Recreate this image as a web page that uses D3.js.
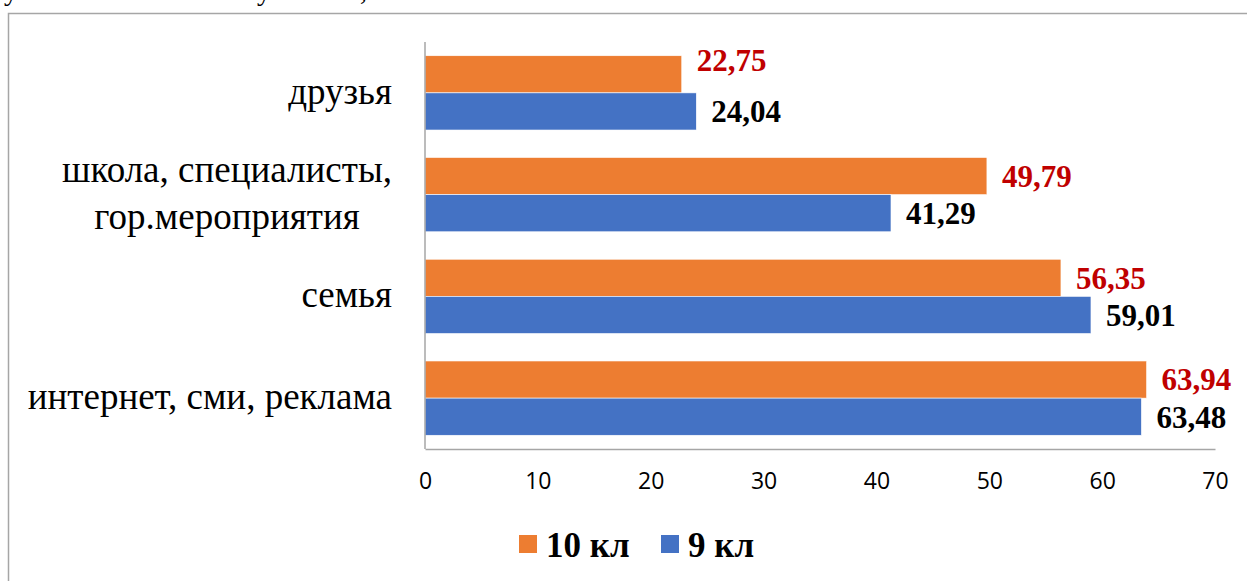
<!DOCTYPE html>
<html>
<head>
<meta charset="UTF-8">
<title>Источники информации</title>
<script src="https://cdn.jsdelivr.net/npm/d3@7"></script>
<style>
  body { margin: 0; background: #fff; }
  svg { display: block; }
</style>
</head>
<body>
<script>
// data
var categories = [["друзья"], ["школа, специалисты,", "гор.мероприятия"], ["семья"], ["интернет, сми, реклама"]];
var seriesNames = ["10 кл", "9 кл"];
var values10 = [22.75, 49.79, 56.35, 63.94];
var values9 = [24.04, 41.29, 59.01, 63.48];
var xTicks = [0, 10, 20, 30, 40, 50, 60, 70];

var colors = ["#ed7d31", "#4472c4"];
var labelColors = ["#c00000", "#000000"];
var serif = "'Liberation Serif', 'Times New Roman', serif";

var W = 1247, H = 581;
var svg = d3.select("body").append("svg").attr("width", W).attr("height", H);

// bits of the text line above the chart (only descenders visible)
svg.selectAll("text.cut").data([[4, "у"], [257, "у"], [360, ","]]).enter()
  .append("text").attr("class", "cut")
  .attr("x", function (d) { return d[0]; }).attr("y", 0)
  .style("font-family", serif).style("font-size", "28px")
  .text(function (d) { return d[1]; });

// outer frame (runs off the right and bottom)
svg.append("rect").attr("x", 8.5).attr("y", 13.5).attr("width", 1260).attr("height", 600)
  .attr("fill", "none").attr("stroke", "#a6a6a6").attr("stroke-width", 1.5);

var keys = categories.map(function (c) { return c.join(" "); });

var x = d3.scaleLinear().domain([0, 70]).range([425, 1215]);
var y = d3.scaleBand().domain(keys).range([42, 449]).paddingInner(0.27).paddingOuter(0.135);
var ySub = d3.scaleBand().domain(seriesNames).range([0, y.bandwidth()]);

var rows = [];
keys.forEach(function (k, i) {
  rows.push({ cat: k, s: 0, v: values10[i] });
  rows.push({ cat: k, s: 1, v: values9[i] });
});

// bars
svg.selectAll("rect.bar").data(rows).enter().append("rect").attr("class", "bar")
  .attr("x", x(0))
  .attr("y", function (d) { return y(d.cat) + ySub(seriesNames[d.s]); })
  .attr("width", function (d) { return x(d.v) - x(0); })
  .attr("height", ySub.bandwidth())
  .attr("fill", function (d) { return colors[d.s]; })
  .attr("stroke", "#fff").attr("stroke-width", 0.6);

// value labels (the first red one was nudged up in the original)
var nudge = { "друзья": -14 };
svg.selectAll("text.val").data(rows).enter().append("text").attr("class", "val")
  .attr("x", function (d) { return x(d.v) + 15; })
  .attr("y", function (d) {
    var yy = y(d.cat) + ySub(seriesNames[d.s]) + ySub.bandwidth() / 2;
    if (d.s === 0 && nudge[d.cat]) yy += nudge[d.cat];
    return yy;
  })
  .attr("dy", "0.35em")
  .style("font-family", serif).style("font-weight", "bold").style("font-size", "31px")
  .attr("fill", function (d) { return labelColors[d.s]; })
  .text(function (d) { return d3.format(".2f")(d.v).replace(".", ","); });

// axis lines
svg.append("line").attr("x1", x(0)).attr("x2", x(0)).attr("y1", 42).attr("y2", 449)
  .attr("stroke", "#a6a6a6").attr("stroke-width", 1.5);
var xAxis = svg.append("g").attr("transform", "translate(0,449)")
  .call(d3.axisBottom(x).tickValues(xTicks).tickSize(0).tickPadding(24));
xAxis.select(".domain").attr("stroke", "#a6a6a6").attr("stroke-width", 1.5);
xAxis.selectAll("text").style("font-family", "'Open Sans', sans-serif").style("font-size", "23px").attr("fill", "#000");

// category labels
var labelRight = 392, lineH = 47;
categories.forEach(function (lines, i) {
  var g = svg.append("g");
  var cy = y(keys[i]) + y.bandwidth() / 2;
  var top = cy - (lines.length - 1) * lineH / 2;
  var ts = lines.map(function (t, j) {
    return g.append("text").attr("y", top + j * lineH).attr("dy", "0.3em")
      .style("font-family", serif).style("font-size", "37px")
      .text(t);
  });
  var maxW = d3.max(ts, function (t) { return t.node().getComputedTextLength(); });
  ts.forEach(function (t) {
    if (lines.length === 1) t.attr("x", labelRight).attr("text-anchor", "end");
    else t.attr("x", labelRight - maxW / 2).attr("text-anchor", "middle");
  });
});

// legend
var legX = [519, 661];
var leg = svg.selectAll("g.leg").data(seriesNames).enter().append("g").attr("class", "leg")
  .attr("transform", function (d, i) { return "translate(" + legX[i] + ",535)"; });
leg.append("rect").attr("width", 18).attr("height", 18).attr("fill", function (d, i) { return colors[i]; });
leg.append("text").attr("x", 27).attr("y", 22)
  .style("font-family", serif).style("font-weight", "bold").style("font-size", "35px")
  .text(function (d) { return d; });
</script>
</body>
</html>
